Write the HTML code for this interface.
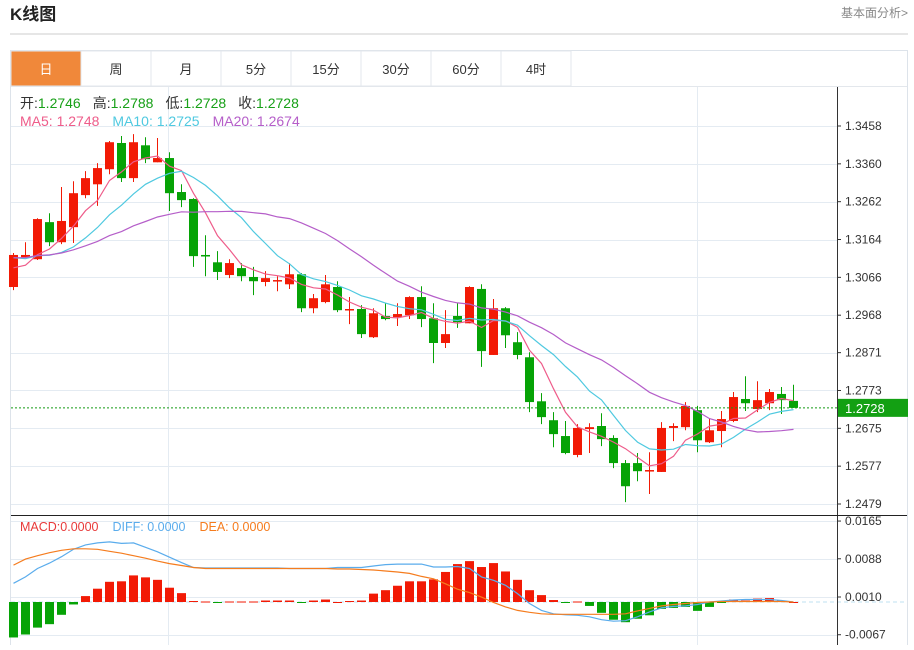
<!DOCTYPE html>
<html><head><meta charset="utf-8">
<style>
body{margin:0;width:914px;height:645px;overflow:hidden;background:#fff;font-family:"Liberation Sans","Noto Sans CJK SC",sans-serif;}
svg text{font-family:"Liberation Sans","Noto Sans CJK SC",sans-serif;}
</style></head>
<body>
<svg id="chart" width="914" height="645" viewBox="0 0 914 645" xmlns="http://www.w3.org/2000/svg">
<text x="10" y="20" font-size="17" font-weight="bold" fill="#222">K线图</text>
<text x="841" y="17" font-size="12" fill="#888">基本面分析&gt;</text>
<line x1="10" y1="34" x2="908" y2="34" stroke="#ccc"/>
<rect x="10.5" y="50.5" width="897" height="600" fill="none" stroke="#dde3ea"/>
<g id="tabs"></g>
<g id="grid"></g>
<g id="candles"></g>
<g id="mas"></g>
<g id="macd"></g>
<g id="axis"></g>
<g font-size="14">
<text x="20" y="108"><tspan fill="#333">开:</tspan><tspan fill="#17a017">1.2746</tspan><tspan fill="#333" dx="12">高:</tspan><tspan fill="#17a017">1.2788</tspan><tspan fill="#333" dx="12">低:</tspan><tspan fill="#17a017">1.2728</tspan><tspan fill="#333" dx="12">收:</tspan><tspan fill="#17a017">1.2728</tspan></text>
<text x="20" y="126"><tspan fill="#ee5c8a">MA5: 1.2748</tspan><tspan fill="#4fc9e0" dx="13">MA10: 1.2725</tspan><tspan fill="#b55ec9" dx="13">MA20: 1.2674</tspan></text>
</g>
<g font-size="12.5">
<text x="20" y="531"><tspan fill="#e83a3a">MACD:0.0000</tspan><tspan fill="#5aacec" dx="14">DIFF: 0.0000</tspan><tspan fill="#f57c1e" dx="14">DEA: 0.0000</tspan></text>
</g>
</svg>
<script>
const tabLabels=["日","周","月","5分","15分","30分","60分","4时"];
const opens=[1.3041,1.3118,1.3113,1.3209,1.3157,1.3196,1.3279,1.3307,1.3346,1.3414,1.3323,1.3408,1.3364,1.3375,1.3287,1.3269,1.3124,1.3105,1.3072,1.3090,1.3067,1.3054,1.3056,1.3048,1.3074,1.2986,1.3002,1.3041,1.2981,1.2984,1.2911,1.2966,1.2963,1.2968,1.3015,1.2960,1.2896,1.2966,1.2947,1.3036,1.2865,1.2986,1.2898,1.2859,1.2745,1.2696,1.2655,1.2606,1.2673,1.2681,1.2650,1.2585,1.2585,1.2563,1.2562,1.2676,1.2678,1.2722,1.2639,1.2668,1.2694,1.2751,1.2725,1.2740,1.2764,1.2746];
const highs=[1.3129,1.3157,1.3219,1.3232,1.3300,1.3315,1.3341,1.3362,1.3419,1.3432,1.3437,1.3429,1.3427,1.3390,1.3307,1.3271,1.3175,1.3134,1.3113,1.3103,1.3093,1.3082,1.3069,1.3103,1.3077,1.3023,1.3072,1.3056,1.3015,1.2994,1.2986,1.2999,1.2999,1.3017,1.3043,1.2999,1.2981,1.2999,1.3043,1.3048,1.3010,1.2989,1.2924,1.2872,1.2766,1.2717,1.2694,1.2686,1.2688,1.2714,1.2657,1.2593,1.2611,1.2613,1.2691,1.2688,1.2743,1.2733,1.2699,1.2720,1.2769,1.2810,1.2797,1.2777,1.2782,1.2788];
const lows=[1.3033,1.3116,1.3111,1.3147,1.3152,1.3155,1.3271,1.3251,1.3333,1.3313,1.3313,1.3362,1.3364,1.3238,1.3248,1.3093,1.3069,1.3059,1.3064,1.3056,1.3020,1.3043,1.3030,1.3036,1.2976,1.2973,1.2999,1.2976,1.2945,1.2909,1.2909,1.2955,1.2940,1.2958,1.2937,1.2844,1.2883,1.2935,1.2947,1.2834,1.2865,1.2883,1.2854,1.2717,1.2686,1.2626,1.2608,1.2600,1.2611,1.2629,1.2572,1.2484,1.2538,1.2505,1.2562,1.2642,1.2670,1.2613,1.2637,1.2626,1.2691,1.2720,1.2717,1.2722,1.2712,1.2728];
const closes=[1.3124,1.3124,1.3217,1.3157,1.3212,1.3284,1.3323,1.3349,1.3416,1.3323,1.3416,1.3372,1.3375,1.3284,1.3266,1.3121,1.3120,1.3080,1.3103,1.3069,1.3056,1.3064,1.3059,1.3074,1.2986,1.3012,1.3048,1.2981,1.2984,1.2919,1.2973,1.2958,1.2971,1.3015,1.2958,1.2896,1.2919,1.2950,1.3041,1.2875,1.2986,1.2916,1.2865,1.2743,1.2704,1.2660,1.2611,1.2676,1.2678,1.2647,1.2585,1.2525,1.2564,1.2567,1.2676,1.2681,1.2733,1.2644,1.2670,1.2699,1.2756,1.2740,1.2748,1.2769,1.2748,1.2728];
const historyCloses=[1.3120,1.3110,1.3125,1.3115,1.3118,1.3112,1.3122,1.3116,1.3114,1.3118,1.3150,1.3140,1.3145,1.3138,1.3142,1.3090,1.3080,1.3085,1.3075];
const priceTicks=["1.3458","1.3360","1.3262","1.3164","1.3066","1.2968","1.2871","1.2773","1.2675","1.2577","1.2479"];
const diffVals=[0.0038,0.0051,0.0068,0.0079,0.0092,0.0107,0.0116,0.0120,0.0122,0.0119,0.0120,0.0111,0.0102,0.0091,0.0080,0.0070,0.0069,0.0069,0.0069,0.0069,0.0069,0.0069,0.0069,0.0068,0.0068,0.0068,0.0068,0.0070,0.0070,0.0070,0.0073,0.0076,0.0077,0.0077,0.0077,0.0071,0.0071,0.0072,0.0068,0.0051,0.0044,0.0034,0.0017,-0.0003,-0.0017,-0.0024,-0.0026,-0.0027,-0.0030,-0.0036,-0.0039,-0.0038,-0.0030,-0.0020,-0.0012,-0.0009,-0.0008,-0.0005,0.0000,0.0002,0.0004,0.0005,0.0005,0.0005,0.0003,0.0000];
const deaVals=[0.0075,0.0087,0.0094,0.0100,0.0105,0.0108,0.0108,0.0107,0.0103,0.0099,0.0094,0.0089,0.0083,0.0078,0.0074,0.0070,0.0068,0.0068,0.0068,0.0068,0.0068,0.0068,0.0068,0.0068,0.0068,0.0068,0.0068,0.0067,0.0067,0.0066,0.0065,0.0063,0.0061,0.0058,0.0052,0.0047,0.0037,0.0026,0.0019,0.0010,-0.0001,-0.0010,-0.0017,-0.0021,-0.0024,-0.0025,-0.0025,-0.0025,-0.0025,-0.0025,-0.0025,-0.0024,-0.0018,-0.0013,-0.0008,-0.0005,-0.0003,-0.0001,0.0000,0.0001,0.0001,0.0001,0.0001,0.0001,0.0001,0.0000];
const macdVals=[-0.0072,-0.0066,-0.0052,-0.0045,-0.0026,-0.0005,0.0012,0.0027,0.0041,0.0042,0.0054,0.0050,0.0045,0.0029,0.0018,0.0002,0.0001,-0.0001,0.0001,0.0001,0.0001,0.0003,0.0003,0.0003,-0.0002,0.0003,0.0005,0.0000,0.0002,0.0003,0.0017,0.0024,0.0033,0.0042,0.0042,0.0046,0.0061,0.0077,0.0083,0.0071,0.0079,0.0062,0.0045,0.0024,0.0014,0.0004,-0.0001,0.0001,-0.0008,-0.0022,-0.0036,-0.0041,-0.0034,-0.0027,-0.0014,-0.0012,-0.0010,-0.0018,-0.0010,-0.0002,0.0005,0.0003,0.0007,0.0008,0.0003,0.0000];
const macdTicks=["0.0165","0.0088","0.0010","-0.0067"];
const lastPrice=1.2728;

const NS="http://www.w3.org/2000/svg";
function mk(tag,attrs,parent){const e=document.createElementNS(NS,tag);for(const k in attrs)e.setAttribute(k,attrs[k]);parent.appendChild(e);return e;}
const RED="#f21a05",GREEN="#06a306";
const yP=p=>126+(1.3458-p)/0.0979*378;
const xC=i=>13+12*i;
const yM=v=>602-v*4926;
const yMT=v=>597-(v-0.0010)*4900;

const tabs=document.getElementById('tabs');
tabLabels.forEach((t,i)=>{
 const g=mk('g',{},tabs);
 
 
 mk('rect',{x:11+70*i,y:51,width:70,height:35,fill:i===0?'#f0883a':'#fff',stroke:'#e3e7ec'},g);
 const tx=mk('text',{x:46+70*i,y:74,'font-size':13,'text-anchor':'middle',fill:i===0?'#fff':'#333'},g);
 tx.textContent=t;
});
mk('line',{x1:11,y1:86.5,x2:907,y2:86.5,stroke:'#e3e7ec'},tabs);

const grid=document.getElementById('grid');
priceTicks.forEach(t=>{const y=Math.round(yP(+t))+0.5;
 const l=mk('line',{x1:11,y1:y,x2:837,y2:y,stroke:'#e4ebf2'},grid);
 });
macdTicks.forEach(t=>{const y=Math.round(yMT(+t))+0.5;
 const l=mk('line',{x1:11,y1:y,x2:837,y2:y,stroke:'#e4ebf2'},grid);
 });
[168.5,697.5].forEach(x=>{const l=mk('line',{x1:x,y1:87,x2:x,y2:645,stroke:'#e4ebf2'},grid);
 });

const cg=document.getElementById('candles');
opens.forEach((o,i)=>{const c=closes[i],up=c>=o,col=up?RED:GREEN,x=xC(i);
 const g=mk('g',{},cg);
 
 mk('line',{x1:x+0.5,y1:yP(highs[i]),x2:x+0.5,y2:yP(lows[i]),stroke:col},g);
 const t=yP(Math.max(o,c)),b=yP(Math.min(o,c));
 mk('rect',{x:x-4,y:t,width:9,height:Math.max(1.5,b-t),fill:col},g);
});

const all=historyCloses.concat(closes),H=historyCloses.length;
function ma(n){return closes.map((_,i)=>{let s=0;for(let k=0;k<n;k++)s+=all[H+i-k];return s/n;});}
const mg=document.getElementById('mas');
[[5,'#ee5c8a','ma5-line'],[10,'#4fc9e0','ma10-line'],[20,'#b55ec9','ma20-line']].forEach(([n,col,name])=>{
 const v=ma(n);const pl=mk('polyline',{points:v.map((p,i)=>xC(i)+0.5+','+yP(p).toFixed(1)).join(' '),fill:'none',stroke:col,'stroke-width':1.2},mg);
 });

const lp=mk('line',{x1:11,y1:yP(lastPrice),x2:837,y2:yP(lastPrice),stroke:'#139a13','stroke-dasharray':'2,2'},mg);


const mc=document.getElementById('macd');
const zl=mk('line',{x1:11,y1:602,x2:907,y2:602,stroke:'#bfe0f0','stroke-dasharray':'4,3'},mc);

macdVals.forEach((v,i)=>{const y=yM(v);const r=mk('rect',{x:xC(i)-4,y:Math.min(y,602),width:9,height:Math.max(1,Math.abs(y-602)),fill:v>=0?RED:GREEN},mc);
 });
const dl=mk('polyline',{points:diffVals.map((v,i)=>xC(i)+0.5+','+yM(v).toFixed(1)).join(' '),fill:'none',stroke:'#5aacec','stroke-width':1.2},mc);

const el=mk('polyline',{points:deaVals.map((v,i)=>xC(i)+0.5+','+yM(v).toFixed(1)).join(' '),fill:'none',stroke:'#f57c1e','stroke-width':1.2},mc);


const ax=document.getElementById('axis');
const va=mk('line',{x1:837.5,y1:87,x2:837.5,y2:645,stroke:'#333'},ax);

const sep=mk('line',{x1:11,y1:515.5,x2:907,y2:515.5,stroke:'#222'},ax);

priceTicks.forEach(t=>{const y=yP(+t);
 mk('line',{x1:837,y1:y,x2:841,y2:y,stroke:'#333'},ax);
 const tx=mk('text',{x:845,y:y+4,'font-size':12,fill:'#333'},ax);tx.textContent=t;
 });
macdTicks.forEach(t=>{const y=yMT(+t);
 mk('line',{x1:837,y1:y,x2:841,y2:y,stroke:'#333'},ax);
 const tx=mk('text',{x:845,y:y+4,'font-size':12,fill:'#333'},ax);tx.textContent=t;
 });
const ly=yP(lastPrice);
const lb=mk('rect',{x:838,y:ly-9,width:70,height:18,fill:'#13a013'},ax);

const lt=mk('text',{x:845,y:ly+5,'font-size':13,fill:'#fff'},ax);lt.textContent=lastPrice.toFixed(4);

</script>
</body></html>
